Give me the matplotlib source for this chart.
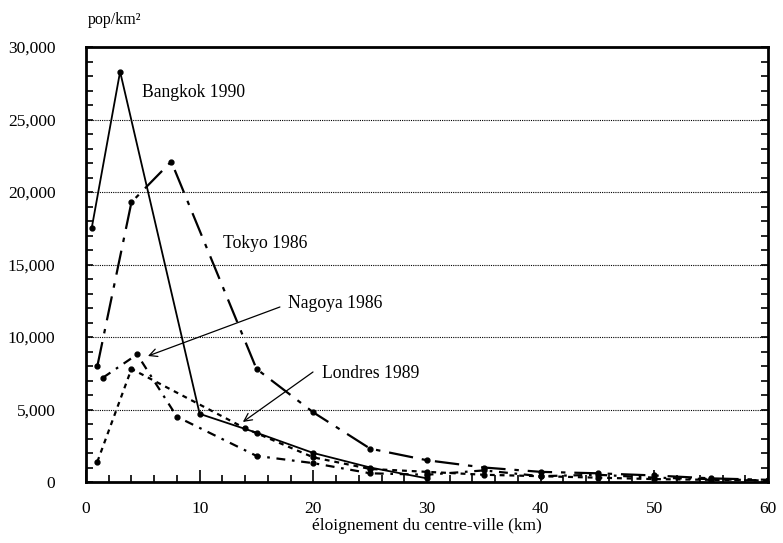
import matplotlib
matplotlib.use("Agg")
import matplotlib.pyplot as plt
from matplotlib.ticker import MultipleLocator, FuncFormatter

# Data (km from centre, population per km2)
bangkok_x = [0.5, 3, 10, 15, 20, 25, 30]
bangkok_y = [17500, 28300, 4700, 3400, 2000, 1000, 250]

tokyo_x = [1, 4, 7.5, 15, 20, 25, 30, 35, 40, 45, 50, 55, 60]
tokyo_y = [8000, 19300, 22100, 7800, 4800, 2300, 1500, 1000, 700, 600, 450, 250, 150]

nagoya_x = [1.5, 4.5, 8, 15, 20, 25, 30, 35, 40, 45, 50, 55, 60]
nagoya_y = [7200, 8800, 4500, 1800, 1300, 600, 500, 800, 400, 500, 300, 200, 100]

londres_x = [1, 4, 14, 20, 25, 30, 35, 40, 45, 50, 55, 60]
londres_y = [1400, 7800, 3700, 1700, 900, 700, 500, 400, 300, 200, 150, 100]

serif = ["Liberation Serif", "DejaVu Serif"]
plt.rcParams["font.family"] = serif

fig = plt.figure(figsize=(7.83, 5.43), dpi=100)
ax = fig.add_axes([86/783, 1-482/543, (768-86)/783, (482-47)/543])

mk = dict(marker="o", markersize=3.5, color="black")
ax.plot(bangkok_x, bangkok_y, linestyle="-", linewidth=1.3, **mk)
ax.plot(tokyo_x, tokyo_y, linestyle=(0, (11, 4, 2, 4)), linewidth=1.6, **mk)
ax.plot(nagoya_x, nagoya_y, linestyle=(0, (4, 3, 1.2, 3)), linewidth=1.6, **mk)
ax.plot(londres_x, londres_y, linestyle=(0, (2.2, 2.2)), linewidth=1.6, **mk)

ax.set_xlim(0, 60)
ax.set_ylim(0, 30000)

for y in [5000, 10000, 15000, 20000, 25000]:
    ax.axhline(y, color="black", linestyle=(0, (1, 1)), linewidth=0.8, zorder=0)

ax.xaxis.set_major_locator(MultipleLocator(10))
ax.xaxis.set_minor_locator(MultipleLocator(2))
ax.yaxis.set_major_locator(MultipleLocator(5000))
ax.yaxis.set_minor_locator(MultipleLocator(1000))
ax.yaxis.set_major_formatter(FuncFormatter(lambda v, p: f"{int(v):,}"))

ax.tick_params(axis="both", which="both", direction="in", labelsize=12.5, width=1.2)
ax.tick_params(axis="y", which="both", right=True, length=5, pad=22)
ax.tick_params(axis="x", which="major", length=9, pad=14)
ax.tick_params(axis="x", which="minor", length=5)

for s in ax.spines.values():
    s.set_linewidth(2)

ax.set_xlabel("éloignement du centre-ville (km)", fontsize=12.5, labelpad=0.5)
fig.text(88/783, 1-20/543, "pop/km²", fontsize=11.5, ha="left", va="center")

ax.text(4.9, 26830, "Bangkok 1990", fontsize=12.7, ha="left", va="center")
ax.text(12.05, 16480, "Tokyo 1986", fontsize=12.7, ha="left", va="center")
ax.text(17.8, 12276, "Nagoya 1986", fontsize=12.7, ha="left", va="center")
ax.text(20.8, 7517, "Londres 1989", fontsize=12.7, ha="left", va="center")

arrow = dict(arrowstyle="->", color="black", lw=0.9, mutation_scale=14, shrinkA=0, shrinkB=0)
ax.annotate("", xy=(5.45, 8690), xytext=(17.06, 12070), arrowprops=arrow)
ax.annotate("", xy=(13.8, 4140), xytext=(19.97, 7586), arrowprops=arrow)

fig.savefig("out.png", dpi=100)
